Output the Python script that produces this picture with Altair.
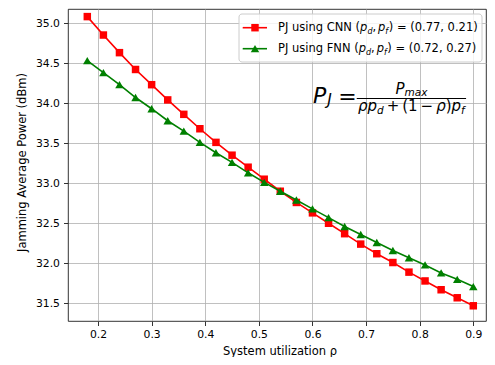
import altair as alt
import pandas as pd

# ---------------- data ----------------
rho = [0.18, 0.21, 0.24, 0.27, 0.30, 0.33, 0.36, 0.39, 0.42, 0.45, 0.48, 0.51, 0.54,
       0.57, 0.60, 0.63, 0.66, 0.69, 0.72, 0.75, 0.78, 0.81, 0.84, 0.87, 0.90]
cnn_dbm = [35.08, 34.85, 34.63, 34.42, 34.23, 34.04, 33.86, 33.68, 33.51, 33.35, 33.20, 33.05, 32.90,
           32.76, 32.63, 32.50, 32.37, 32.24, 32.12, 32.01, 31.89, 31.78, 31.67, 31.57, 31.47]
fnn_dbm = [34.53, 34.38, 34.23, 34.07, 33.93, 33.78, 33.65, 33.51, 33.38, 33.26, 33.13, 33.01, 32.90,
           32.79, 32.68, 32.57, 32.46, 32.36, 32.26, 32.16, 32.07, 31.98, 31.88, 31.80, 31.71]
series_names = ["PJ using CNN", "PJ using FNN"]
series_params = ["(0.77, 0.21)", "(0.72, 0.27)"]
series_colors = ["#ff0000", "#008000"]
series_shapes = ["square", "triangle-up"]
x_ticks = [0.2, 0.3, 0.4, 0.5, 0.6, 0.7, 0.8, 0.9]
y_ticks = [31.5, 32.0, 32.5, 33.0, 33.5, 34.0, 34.5, 35.0]

FONT = "DejaVu Sans"
W, H = 418, 312

rows = []
for name, vals in zip(series_names, [cnn_dbm, fnn_dbm]):
    for r, v in zip(rho, vals):
        rows.append({"series": name, "rho": r, "power": v})
df = pd.DataFrame(rows)

x_enc = alt.X("rho:Q", scale=alt.Scale(domain=[0.144, 0.9237], nice=False, zero=False),
              axis=alt.Axis(values=x_ticks, format=".1f", title="System utilization ρ",
                            labelPadding=3.3, titleX=211.5, titleY=33.5,
                            titleBaseline="alphabetic", titleAlign="center"))
y_enc = alt.Y("power:Q", scale=alt.Scale(domain=[31.28, 35.175], nice=False, zero=False),
              axis=alt.Axis(values=y_ticks, format=".1f", title="Jamming Average Power (dBm)",
                            labelPadding=4, titleX=-46, titleY=153,
                            titleBaseline="middle", titleAlign="center"))
color_enc = alt.Color("series:N", scale=alt.Scale(domain=series_names, range=series_colors), legend=None)
shape_enc = alt.Shape("series:N", scale=alt.Scale(domain=series_names, range=series_shapes), legend=None)
size_enc = alt.Size("series:N", scale=alt.Scale(domain=series_names, range=[56, 72]), legend=None)

layers = []
for name in series_names:
    base = alt.Chart(df).transform_filter(alt.datum.series == name)
    layers.append(base.mark_line(strokeWidth=1.6).encode(x=x_enc, y=y_enc, color=color_enc))
    layers.append(base.mark_point(filled=True, opacity=1).encode(
        x=x_enc, y=y_enc, color=color_enc, shape=shape_enc, size=size_enc))

# ---------------- text helpers (DejaVu Sans advances, 2048 upm) ----------------
ADV = {"P": 1235, "J": 604, " ": 651, "u": 1298, "s": 1067, "i": 569, "n": 1298, "g": 1300,
       "C": 1430, "N": 1532, "F": 1178, "(": 799, ")": 799, ",": 651, "=": 1716, ".": 651,
       "+": 1716, "−": 1716, "m": 1995, "a": 1255, "x": 1212, "p": 1300, "d": 1300, "f": 721,
       "ρ": 1300}
for dch in "0123456789":
    ADV[dch] = 1303


def adv(s, size):
    return sum(ADV.get(c, 1300) for c in s) * size / 2048.0


one = pd.DataFrame({"k": [0]})


def txt(s, x, y, size, italic=False):
    return alt.Chart(one).mark_text(
        text=s, font=FONT, fontSize=size, fontStyle="italic" if italic else "normal",
        align="left", baseline="alphabetic", color="black"
    ).encode(x=alt.value(x), y=alt.value(y))


def rule(x1, x2, y, color, width):
    return alt.Chart(one).mark_rule(color=color, strokeWidth=width).encode(
        x=alt.value(x1), x2=alt.value(x2), y=alt.value(y))


# ---------------- formula P_J = P_max / (rho p_d + (1-rho) p_f) ----------------
M, F, FS = 22, 15, 10.5
base_y = 93.5
fx = 245
layers.append(txt("P", fx, base_y, M, True))
jx = fx + adv("P", M)
layers.append(txt("J", jx + 1.0, base_y + 2.5, 15.4, True))
ex = jx + adv("J", 15.4) + 7.5
layers.append(txt("=", ex, base_y + 1.5, M))
bar_x0 = ex + adv("=", M)
sp = 0.2 * F
den = [("ρ", True, F, 0), ("p", True, F, 0), ("d", True, FS, 0), (None, None, sp, 0),
       ("+", False, F, 0), (None, None, sp, 0), ("(", False, F, 0), ("1", False, F, 0),
       (None, None, sp, 0), ("−", False, F, 0), (None, None, sp, 0), ("ρ", True, F, 0),
       (")", False, F, 0), ("p", True, F, 0), ("f", True, FS, 0)]
den_w = 0
for t, it, sz, _ in den:
    den_w += sz if t is None else adv(t, sz)
bar_x1 = bar_x0 + den_w + 2.5
bar_y = 89.5
layers.append(rule(bar_x0, bar_x1, bar_y, "black", 1.2))
cx = bar_x0 + 1.2
den_base = 102
for t, it, sz, _ in den:
    if t is None:
        cx += sz
        continue
    yy = den_base + (2.5 if sz == FS else 0)
    layers.append(txt(t, cx, yy, sz, it))
    cx += adv(t, sz)
num_w = adv("P", F) + adv("max", FS)
nx = (bar_x0 + bar_x1) / 2 - num_w / 2
layers.append(txt("P", nx, 84.5, F, True))
layers.append(txt("max", nx + adv("P", F), 87.3, FS, True))

# ---------------- legend (box, handles, labels with subscripts) ----------------
layers.append(alt.Chart(one).mark_rect(fill="white", fillOpacity=0.8, stroke="#cccccc",
                                       strokeWidth=1, cornerRadius=3).encode(
    x=alt.value(171), x2=alt.value(414), y=alt.value(5), y2=alt.value(53)))
L, LS = 11.5, 8
row_y = [18.7, 39.7]
for name, par, col, shp, ry in zip(series_names, series_params, series_colors, series_shapes, row_y):
    layers.append(rule(174.7, 199, ry, col, 1.6))
    layers.append(alt.Chart(one).mark_point(filled=True, opacity=1, color=col, shape=shp,
                                            size=56 if shp == "square" else 72).encode(
        x=alt.value(187), y=alt.value(ry)))
    by = ry + 3.6
    x = 210
    s1 = name + " ("
    layers.append(txt(s1, x, by, L)); x += adv(s1, L)
    layers.append(txt("p", x, by, L, True)); x += adv("p", L)
    layers.append(txt("d", x, by + 2.6, LS, True)); x += adv("d", LS)
    layers.append(txt(",", x, by, L)); x += adv(",", L) + 0.17 * L
    layers.append(txt("p", x, by, L, True)); x += adv("p", L)
    layers.append(txt("f", x, by + 2.6, LS, True)); x += adv("f", LS) + 0.6
    layers.append(txt(") = " + par, x, by, L))

chart = alt.layer(*layers).properties(
    width=W, height=H,
    autosize=alt.AutoSizeParams(type="none"),
    padding={"left": 60, "top": 1, "right": 1, "bottom": 36},
).configure_view(
    stroke="black", strokeWidth=0.8
).configure_axis(
    domain=False, grid=True, gridColor="#b0b0b0", gridWidth=0.8, gridOpacity=1,
    tickColor="black", tickWidth=0.8, tickSize=4.5,
    labelFont=FONT, labelFontSize=10.8, labelColor="black", labelFlush=False, labelOverlap=False,
    titleFont=FONT, titleFontSize=11.5, titleFontWeight="normal", titleColor="black",
)

chart.save("out.html", embed_options={"renderer": "svg", "actions": False})
